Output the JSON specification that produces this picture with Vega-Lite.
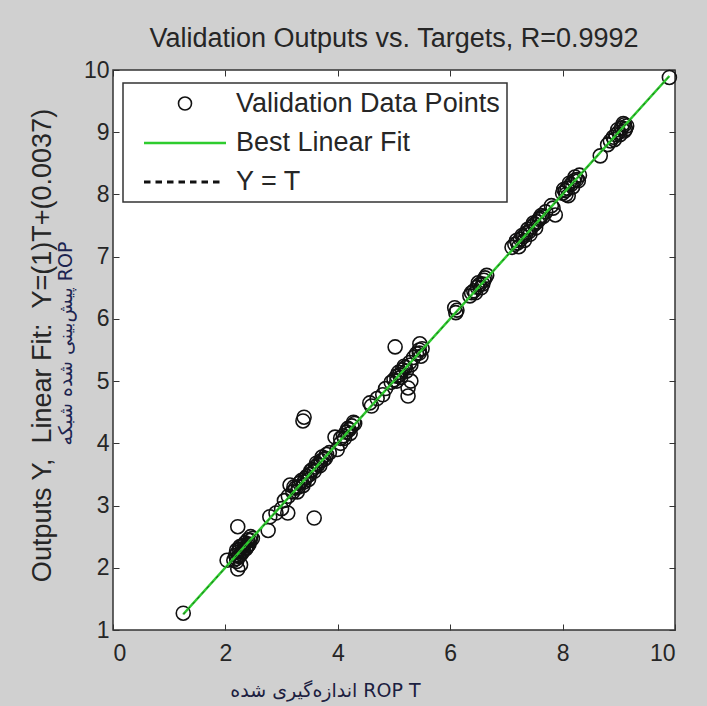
{
  "$schema": "https://vega.github.io/schema/vega-lite/v6.json",
  "width": 562,
  "height": 560,
  "autosize": {"type": "none"},
  "padding": {"left": 113, "top": 70, "right": 32, "bottom": 76},
  "background": "#d0d0d0",
  "title": {
    "text": "Validation Outputs vs. Targets, R=0.9992",
    "fontSize": 27,
    "fontWeight": "normal",
    "font": "Liberation Sans",
    "color": "#262626",
    "offset": 6,
    "anchor": "middle"
  },
  "datasets": {
    "validation": [
      {"T": 1.25, "Y": 1.27},
      {"T": 2.03, "Y": 2.12}, {"T": 2.15, "Y": 2.12}, {"T": 2.18, "Y": 2.2}, {"T": 2.2, "Y": 2.15},
      {"T": 2.22, "Y": 2.25}, {"T": 2.25, "Y": 2.3}, {"T": 2.28, "Y": 2.22}, {"T": 2.3, "Y": 2.35},
      {"T": 2.32, "Y": 2.28}, {"T": 2.35, "Y": 2.4}, {"T": 2.38, "Y": 2.33}, {"T": 2.4, "Y": 2.45},
      {"T": 2.42, "Y": 2.38}, {"T": 2.45, "Y": 2.5}, {"T": 2.48, "Y": 2.47}, {"T": 2.22, "Y": 2.66},
      {"T": 2.22, "Y": 1.98}, {"T": 2.27, "Y": 2.05},
      {"T": 2.2, "Y": 2.28}, {"T": 2.24, "Y": 2.18}, {"T": 2.26, "Y": 2.34}, {"T": 2.3, "Y": 2.25},
      {"T": 2.33, "Y": 2.36}, {"T": 2.36, "Y": 2.3}, {"T": 2.4, "Y": 2.36}, {"T": 2.44, "Y": 2.44},
      {"T": 2.2, "Y": 2.1}, {"T": 2.25, "Y": 2.2},
      {"T": 2.76, "Y": 2.6}, {"T": 2.79, "Y": 2.82}, {"T": 2.9, "Y": 2.88}, {"T": 3.0, "Y": 2.95},
      {"T": 3.05, "Y": 3.08}, {"T": 3.11, "Y": 2.88}, {"T": 3.12, "Y": 3.15}, {"T": 3.15, "Y": 3.33},
      {"T": 3.2, "Y": 3.22}, {"T": 3.25, "Y": 3.28}, {"T": 3.3, "Y": 3.3}, {"T": 3.35, "Y": 3.4},
      {"T": 3.4, "Y": 3.38}, {"T": 3.45, "Y": 3.47}, {"T": 3.5, "Y": 3.5}, {"T": 3.38, "Y": 4.36},
      {"T": 3.4, "Y": 4.42}, {"T": 3.58, "Y": 2.8},
      {"T": 3.22, "Y": 3.3}, {"T": 3.28, "Y": 3.22}, {"T": 3.32, "Y": 3.36}, {"T": 3.38, "Y": 3.32},
      {"T": 3.42, "Y": 3.44}, {"T": 3.48, "Y": 3.42},
      {"T": 3.55, "Y": 3.58}, {"T": 3.6, "Y": 3.62}, {"T": 3.65, "Y": 3.66}, {"T": 3.7, "Y": 3.72},
      {"T": 3.75, "Y": 3.74}, {"T": 3.8, "Y": 3.82}, {"T": 3.85, "Y": 3.85}, {"T": 3.95, "Y": 4.1},
      {"T": 3.99, "Y": 3.9}, {"T": 4.05, "Y": 4.08}, {"T": 4.1, "Y": 4.12}, {"T": 4.15, "Y": 4.18},
      {"T": 4.2, "Y": 4.22}, {"T": 4.25, "Y": 4.28}, {"T": 4.3, "Y": 4.32}, {"T": 4.05, "Y": 4.0},
      {"T": 3.52, "Y": 3.56}, {"T": 3.58, "Y": 3.55}, {"T": 3.62, "Y": 3.68}, {"T": 3.68, "Y": 3.64},
      {"T": 3.72, "Y": 3.78}, {"T": 3.78, "Y": 3.76}, {"T": 4.12, "Y": 4.08}, {"T": 4.18, "Y": 4.24},
      {"T": 4.22, "Y": 4.16}, {"T": 4.28, "Y": 4.34},
      {"T": 4.57, "Y": 4.65}, {"T": 4.6, "Y": 4.6}, {"T": 4.7, "Y": 4.72}, {"T": 4.8, "Y": 4.78},
      {"T": 4.85, "Y": 4.88}, {"T": 4.95, "Y": 4.98}, {"T": 5.0, "Y": 5.02}, {"T": 5.02, "Y": 5.55},
      {"T": 5.05, "Y": 5.08}, {"T": 5.1, "Y": 5.1}, {"T": 5.15, "Y": 5.18}, {"T": 5.2, "Y": 5.22},
      {"T": 5.25, "Y": 4.89}, {"T": 5.25, "Y": 4.76}, {"T": 5.28, "Y": 5.3}, {"T": 5.3, "Y": 5.0},
      {"T": 5.35, "Y": 5.38}, {"T": 5.45, "Y": 5.45}, {"T": 5.46, "Y": 5.6}, {"T": 5.5, "Y": 5.52},
      {"T": 5.48, "Y": 5.4},
      {"T": 5.05, "Y": 5.0}, {"T": 5.08, "Y": 5.14}, {"T": 5.12, "Y": 5.06}, {"T": 5.18, "Y": 5.24},
      {"T": 5.22, "Y": 5.16}, {"T": 5.3, "Y": 5.26}, {"T": 5.4, "Y": 5.44}, {"T": 5.45, "Y": 5.5},
      {"T": 6.08, "Y": 6.18}, {"T": 6.1, "Y": 6.1}, {"T": 6.12, "Y": 6.14}, {"T": 6.35, "Y": 6.37},
      {"T": 6.42, "Y": 6.45}, {"T": 6.48, "Y": 6.51}, {"T": 6.52, "Y": 6.55}, {"T": 6.55, "Y": 6.5},
      {"T": 6.6, "Y": 6.62}, {"T": 6.65, "Y": 6.7},
      {"T": 6.45, "Y": 6.42}, {"T": 6.5, "Y": 6.58}, {"T": 6.58, "Y": 6.56}, {"T": 6.62, "Y": 6.66},
      {"T": 6.38, "Y": 6.42},
      {"T": 7.1, "Y": 7.15}, {"T": 7.15, "Y": 7.2}, {"T": 7.2, "Y": 7.22}, {"T": 7.25, "Y": 7.28},
      {"T": 7.3, "Y": 7.32}, {"T": 7.35, "Y": 7.38}, {"T": 7.4, "Y": 7.4}, {"T": 7.45, "Y": 7.48},
      {"T": 7.5, "Y": 7.52}, {"T": 7.55, "Y": 7.56}, {"T": 7.6, "Y": 7.62}, {"T": 7.65, "Y": 7.64},
      {"T": 7.7, "Y": 7.72}, {"T": 7.8, "Y": 7.82}, {"T": 7.83, "Y": 7.78}, {"T": 7.87, "Y": 7.67},
      {"T": 7.18, "Y": 7.26}, {"T": 7.22, "Y": 7.16}, {"T": 7.28, "Y": 7.34}, {"T": 7.32, "Y": 7.26},
      {"T": 7.38, "Y": 7.44}, {"T": 7.42, "Y": 7.36}, {"T": 7.48, "Y": 7.54}, {"T": 7.52, "Y": 7.46},
      {"T": 7.58, "Y": 7.6}, {"T": 7.62, "Y": 7.66},
      {"T": 8.0, "Y": 8.02}, {"T": 8.05, "Y": 8.06}, {"T": 8.08, "Y": 8.1}, {"T": 8.1, "Y": 7.98},
      {"T": 8.15, "Y": 8.16}, {"T": 8.2, "Y": 8.22}, {"T": 8.25, "Y": 8.24}, {"T": 8.3, "Y": 8.31},
      {"T": 8.02, "Y": 8.08}, {"T": 8.06, "Y": 8.0}, {"T": 8.12, "Y": 8.18}, {"T": 8.18, "Y": 8.12},
      {"T": 8.22, "Y": 8.28}, {"T": 8.28, "Y": 8.22},
      {"T": 8.67, "Y": 8.62}, {"T": 8.8, "Y": 8.8}, {"T": 8.85, "Y": 8.86}, {"T": 8.9, "Y": 8.92},
      {"T": 8.95, "Y": 8.96}, {"T": 9.0, "Y": 9.0}, {"T": 9.05, "Y": 9.07}, {"T": 9.1, "Y": 9.12},
      {"T": 9.12, "Y": 9.05},
      {"T": 8.92, "Y": 8.88}, {"T": 8.98, "Y": 9.04}, {"T": 9.02, "Y": 8.96}, {"T": 9.08, "Y": 9.14},
      {"T": 9.1, "Y": 9.02}, {"T": 9.14, "Y": 9.1},
      {"T": 9.9, "Y": 9.88}
    ],
    "fitLine": [
      {"T": 1.25, "Y": 1.2537},
      {"T": 9.9, "Y": 9.9037}
    ],
    "identityLine": [
      {"T": 1.25, "Y": 1.25},
      {"T": 9.9, "Y": 9.9}
    ]
  },
  "layer": [
    {
      "data": {"name": "validation"},
      "transform": [{"calculate": "'Validation Data Points'", "as": "series"}],
      "mark": {"type": "point", "filled": false, "opacity": 1, "size": 724},
      "encoding": {
        "x": {
          "field": "T", "type": "quantitative",
          "scale": {"domain": [0, 10], "nice": false, "zero": false},
          "axis": {
            "orient": "bottom",
            "values": [0, 2, 4, 6, 8, 10],
            "title": "اندازه‌گیری شده ROP T",
            "titleX": 212, "titleY": 60,
            "titleAlign": "center", "titleBaseline": "middle",
            "titleFontSize": 19, "titleColor": "#1c2040",
            "titleFont": "DejaVu Sans", "titleFontWeight": "normal"
          }
        },
        "y": {
          "field": "Y", "type": "quantitative",
          "scale": {"domain": [1, 10], "nice": false, "zero": false},
          "axis": {
            "orient": "left",
            "values": [1, 2, 3, 4, 5, 6, 7, 8, 9, 10],
            "title": "پیش‌بینی شده شبکه ROP",
            "titleX": -48, "titleY": 273,
            "titleAngle": -90,
            "titleAlign": "center", "titleBaseline": "middle",
            "titleFontSize": 19, "titleColor": "#1c2450",
            "titleFont": "DejaVu Sans", "titleFontWeight": "normal"
          }
        },
        "color": {
          "field": "series", "type": "nominal",
          "scale": {
            "domain": ["Validation Data Points", "Best Linear Fit", "Y = T"],
            "range": ["#111111", "#2ecc2e", "#111111"]
          },
          "legend": {"title": null}
        },
        "shape": {
          "field": "series", "type": "nominal",
          "scale": {
            "domain": ["Validation Data Points", "Best Linear Fit", "Y = T"],
            "range": [
              "M0.52,0A0.52,0.52,0,1,1,-0.52,0A0.52,0.52,0,1,1,0.52,0Z",
              "M-3.28,0H3.28",
              "M-3.28,0H-2.76M-2.36,0H-1.84M-1.44,0H-0.92M-0.52,0H0M0.4,0H0.92M1.32,0H1.84M2.24,0H2.76"
            ]
          },
          "legend": {"title": null}
        },
        "strokeWidth": {
          "field": "series", "type": "nominal",
          "scale": {
            "domain": ["Validation Data Points", "Best Linear Fit", "Y = T"],
            "range": [1.6, 3, 1.5]
          },
          "legend": {"title": null}
        }
      }
    },
    {
      "data": {"name": "fitLine"},
      "mark": {"type": "line", "color": "#2ecc2e", "strokeWidth": 2.5},
      "encoding": {
        "x": {"field": "T", "type": "quantitative", "axis": null},
        "y": {"field": "Y", "type": "quantitative", "axis": null}
      }
    },
    {
      "data": {"name": "identityLine"},
      "mark": {"type": "line", "color": "#111111", "strokeWidth": 1, "strokeDash": [3, 4], "opacity": 0.6},
      "encoding": {
        "x": {"field": "T", "type": "quantitative", "axis": null},
        "y": {"field": "Y", "type": "quantitative", "axis": null}
      }
    },
    {
      "data": {"name": "identityLine"},
      "mark": {"type": "point", "opacity": 0},
      "encoding": {
        "x": {
          "field": "T", "type": "quantitative",
          "axis": {"orient": "top", "values": [0, 2, 4, 6, 8, 10], "labels": false, "title": null, "domain": false}
        },
        "y": {
          "field": "Y", "type": "quantitative",
          "axis": {"orient": "right", "values": [1, 2, 3, 4, 5, 6, 7, 8, 9, 10], "labels": false, "title": null, "domain": false}
        }
      }
    },
    {
      "data": {"name": "identityLine"},
      "mark": {"type": "point", "opacity": 0},
      "encoding": {
        "y": {
          "field": "Y", "type": "quantitative",
          "axis": {
            "orient": "left",
            "labels": false, "ticks": false, "domain": false,
            "title": "Outputs Y,\u00a0\u00a0Linear Fit:\u00a0\u00a0Y=(1)T+(0.0037)",
            "titleX": -71, "titleY": 275,
            "titleAngle": -90,
            "titleAlign": "center", "titleBaseline": "middle",
            "titleFontSize": 27, "titleColor": "#262626",
            "titleFont": "Liberation Sans", "titleFontWeight": "normal"
          }
        }
      }
    }
  ],
  "resolve": {"axis": {"x": "independent", "y": "independent"}},
  "config": {
    "view": {"fill": "#ffffff", "stroke": "#333333", "strokeWidth": 1.5},
    "axis": {
      "grid": false,
      "domain": false,
      "tickSize": -6,
      "tickColor": "#333333",
      "tickWidth": 1,
      "labelFont": "Liberation Sans",
      "labelFontSize": 23,
      "labelColor": "#262626",
      "labelPadding": 10
    },
    "axisX": {"labelPadding": 18},
    "legend": {
      "orient": "none",
      "legendX": 10,
      "legendY": 13,
      "fillColor": "#ffffff",
      "strokeColor": "#333333",
      "strokeWidth": 1.5,
      "padding": 7,
      "symbolOffset": 41,
      "symbolSize": 625,
      "symbolFillColor": "transparent",
      "labelFont": "Liberation Sans",
      "labelFontSize": 27,
      "labelColor": "#262626",
      "labelOffset": 37,
      "labelLimit": 400,
      "rowPadding": 12
    }
  }
}
